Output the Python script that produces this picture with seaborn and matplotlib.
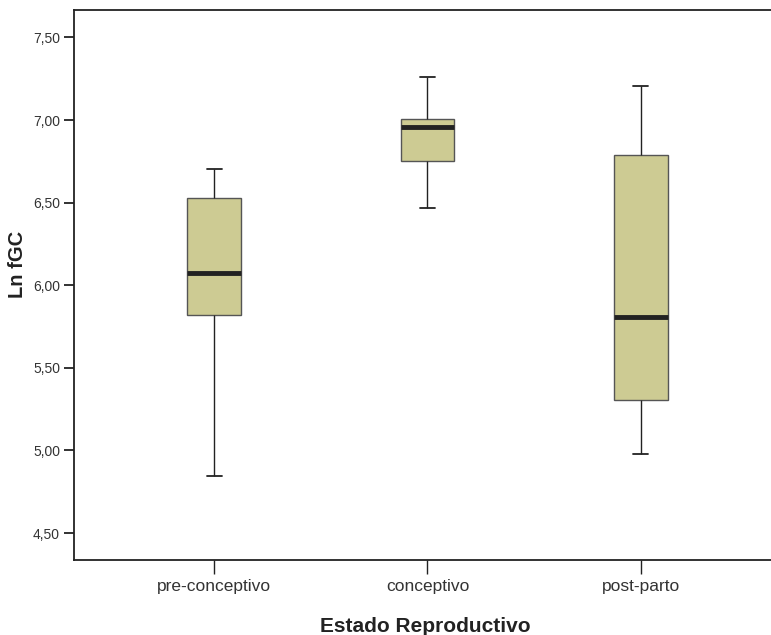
import numpy as np
import pandas as pd
import matplotlib
matplotlib.use("Agg")
import matplotlib.pyplot as plt
import seaborn as sns

# Five-number summaries per group: [min, Q1, median, Q3, max]
categories = ["pre-conceptivo", "conceptivo", "post-parto"]
pre_conceptivo = [4.845, 5.820, 6.074, 6.528, 6.703]
conceptivo = [6.467, 6.752, 6.958, 7.006, 7.260]
post_parto = [4.978, 5.305, 5.807, 6.788, 7.206]
yticks = [4.5, 5.0, 5.5, 6.0, 6.5, 7.0, 7.5]
ytick_labels = ["4,50", "5,00", "5,50", "6,00", "6,50", "7,00", "7,50"]

df = pd.DataFrame({
    "Estado Reproductivo": np.repeat(categories, 5),
    "Ln fGC": pre_conceptivo + conceptivo + post_parto,
})

sns.set_style("white")
plt.rcParams["font.family"] = ["Liberation Sans", "DejaVu Sans"]

fig = plt.figure(figsize=(7.71, 6.35), dpi=100)
ax = fig.add_axes([74 / 771, 75 / 635, 707 / 771, 550 / 635])

sns.boxplot(
    data=df, x="Estado Reproductivo", y="Ln fGC", order=categories,
    ax=ax, whis=(0, 100), width=0.25, color="#CDCB93", saturation=1,
    linecolor="#222222", linewidth=1.0, capwidths=0.07,
    boxprops=dict(facecolor="#CDCB93", edgecolor="#555555", linewidth=1.0),
    medianprops=dict(color="#222222", linewidth=3.5),
    whiskerprops=dict(color="#222222", linewidth=1.0),
    capprops=dict(color="#222222", linewidth=1.3),
)

ax.set_xlim(-0.656, 2.656)
ax.set_ylim(4.337, 7.666)
ax.set_yticks(yticks)
ax.set_yticklabels(ytick_labels)

for side in ["left", "bottom", "top"]:
    ax.spines[side].set_visible(True)
    ax.spines[side].set_color("#222222")
    ax.spines[side].set_linewidth(1.3)
ax.spines["right"].set_visible(False)

ax.tick_params(axis="y", direction="out", length=7, width=1.3, color="#222222",
               labelsize=10, labelcolor="#333333", pad=3, left=True)
ax.tick_params(axis="x", direction="out", length=10, width=1.0, color="#222222",
               labelsize=12.5, labelcolor="#333333", pad=4, bottom=True)

ax.set_xlabel("Estado Reproductivo", fontsize=15, fontweight="bold",
              color="#222222")
ax.set_ylabel("Ln fGC", fontsize=14.5, fontweight="bold", color="#222222")
ax.xaxis.set_label_coords(0.497, -0.104)
ax.yaxis.set_label_coords(-0.066, 0.538)

fig.savefig("out.png", dpi=100)
